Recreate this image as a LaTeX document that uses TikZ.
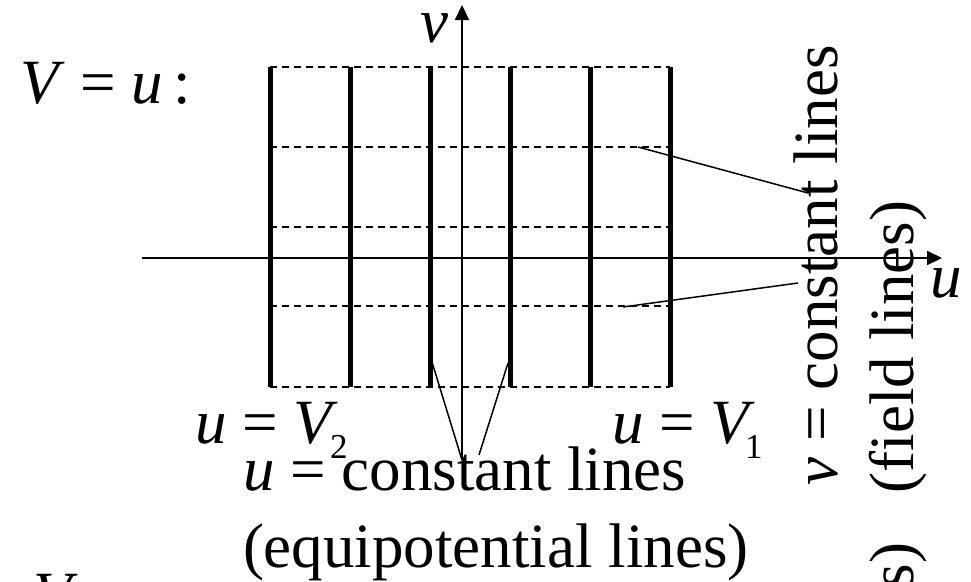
\documentclass[tikz,border=0pt]{standalone}
\usepackage{fontspec}
\setmainfont{Liberation Serif}
\usetikzlibrary{arrows.meta}
\newcommand\mysub[2]{\kern#1\raisebox{-15pt}{\fontsize{35}{35}\selectfont #2}}
\begin{document}
\begin{tikzpicture}[x=1pt,y=-1pt,
  lbl/.style={inner sep=0pt, outer sep=0pt, anchor=base west, font=\fontsize{63}{70}\selectfont},
  eqline/.style={line width=5pt},
  fieldline/.style={line width=1.6pt, dash pattern=on 7pt off 5pt},
  axis/.style={line width=2pt, -{Triangle[length=15pt,width=14pt]}},
  leader/.style={line width=1.5pt}]
\useasboundingbox (0,0) rectangle (971,581);
\clip (0,0) rectangle (971,581);
% field lines (dashed)
\foreach \y in {67,147,227,306,387}
  \draw[fieldline] (270,\y) -- (670,\y);
% equipotential lines (thick)
\foreach \x in {270,350,430,510,590,670}
  \draw[eqline] (\x,67) -- (\x,387);
% axes
\coordinate (vbot) at (462,460);
\coordinate (vtop) at (462,5);
\coordinate (hl) at (142,258);
\coordinate (hr) at (942,258);
\draw[axis] (vbot) -- (vtop);
\draw[axis] (hl) -- (hr);
% labels
\node[lbl] (title) at (20,103) {\textit{V} = \textit{u}\hspace{10pt}:};
\node[lbl] (vlab) at (420,42) {\textit{v}};
\node[lbl] (ulab) at (930,297) {\textit{u}};
\node[lbl] (v2) at (195,443) {\textit{u} = \textit{V}\mysub{-8pt}{2}};
\node[lbl] (v1) at (612,443) {\textit{u} = \textit{V}\mysub{-10pt}{1}};
\node[lbl] (uconst) at (243,490) {\textit{u} = constant lines};
\node[lbl] (equip) at (243,567) {(equipotential lines)};
\node[lbl] (vconst) at (837,485) [rotate=90] {\textit{v} = constant lines};
\node[lbl] (fieldl) at (913,493) [rotate=90] {(field lines)};
\node[lbl, anchor=base east] (cut) at (913,543) [rotate=90] {(equipotential lines)};
\node[lbl] (V2nd) at (33,615) {\textit{V}};
% leaders
\coordinate (fA) at (638,147);
\coordinate (fB) at (623,307);
\coordinate (fT1) at (808,193);
\coordinate (fT2) at (798,283);
\coordinate (eA) at (432,362);
\coordinate (eB) at (508,363);
\coordinate (eT1) at (462,460);
\coordinate (eT2) at (479,455);
\draw[leader] (fA) -- (fT1);
\draw[leader] (fB) -- (fT2);
\draw[leader] (eA) -- (eT1);
\draw[leader] (eB) -- (eT2);
\end{tikzpicture}
\end{document}
